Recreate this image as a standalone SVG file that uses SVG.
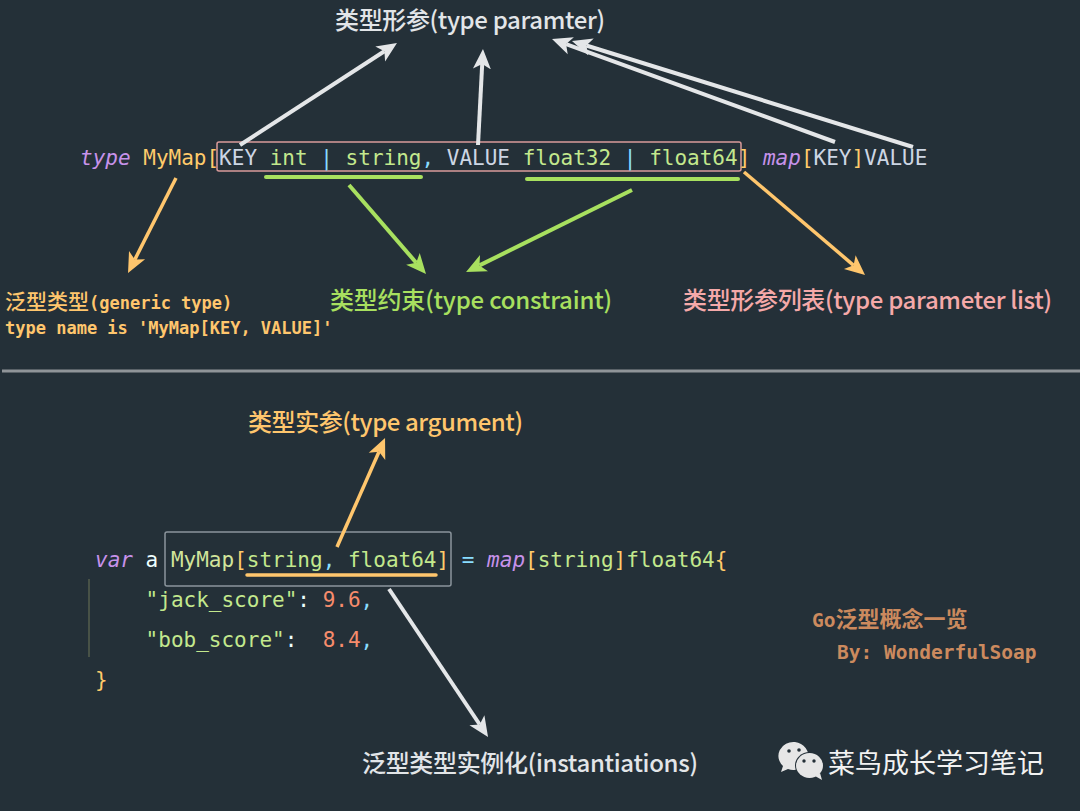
<svg xmlns="http://www.w3.org/2000/svg" width="1080" height="811" viewBox="0 0 1080 811">
<defs>
<style>
.code{font-family:"DejaVu Sans Mono","Liberation Mono",monospace;font-size:21px}
.kw{fill:#c792ea;font-style:italic}
.ty{fill:#ffcb6b}
.id{fill:#cdd6e4}
.gr{fill:#c3e88d}
.op{fill:#89ddff}
.nm{fill:#f78c6c}
.wt{fill:#eeffff}
.lbl{font-family:"Noto Sans CJK SC","Noto Sans",sans-serif;font-size:24px;font-weight:500}
.wa{stroke:#e4e6e8;stroke-width:4;fill:none}
.oa{stroke:#ffc66d;stroke-width:3.5;fill:none}
.ga{stroke:#a8e05f;stroke-width:4;fill:none}
</style>
<marker id="mw" markerUnits="userSpaceOnUse" markerWidth="22" markerHeight="20" viewBox="0 0 22 20" refX="5" refY="10" orient="auto"><path d="M0,1 L20,10 L0,19 L5,10 z" fill="#e4e6e8"/></marker>
<marker id="mo" markerUnits="userSpaceOnUse" markerWidth="22" markerHeight="20" viewBox="0 0 22 20" refX="5" refY="10" orient="auto"><path d="M0,1 L20,10 L0,19 L5,10 z" fill="#ffc66d"/></marker>
<marker id="mg" markerUnits="userSpaceOnUse" markerWidth="22" markerHeight="20" viewBox="0 0 22 20" refX="5" refY="10" orient="auto"><path d="M0,1 L20,10 L0,19 L5,10 z" fill="#a8e05f"/></marker>
</defs>
<rect width="1080" height="811" fill="#243038"/>

<g id="code-top">
<rect x="217" y="142" width="524" height="29" rx="2" fill="none" stroke="#d99a9a" stroke-width="1.5"/>
<text class="code" x="80" y="165" xml:space="preserve"><tspan class="kw">type</tspan> <tspan class="ty">MyMap[</tspan><tspan class="id">KEY</tspan> <tspan class="gr">int</tspan> <tspan class="op">|</tspan> <tspan class="gr">string</tspan><tspan class="op">,</tspan> <tspan class="id">VALUE</tspan> <tspan class="gr">float32</tspan> <tspan class="op">|</tspan> <tspan class="gr">float64</tspan><tspan class="ty">]</tspan> <tspan class="kw">map</tspan><tspan class="ty">[</tspan><tspan class="id">KEY</tspan><tspan class="ty">]</tspan><tspan class="id">VALUE</tspan></text>
<line x1="266" y1="177" x2="421" y2="177" stroke="#a8e05f" stroke-width="4" stroke-linecap="round"/>
<line x1="527" y1="179" x2="738" y2="179" stroke="#a8e05f" stroke-width="4" stroke-linecap="round"/>
</g>

<g id="label-type-param">
<text class="lbl" x="335" y="29" fill="#e2e5e8" textLength="270" lengthAdjust="spacing">类型形参(type paramter)</text>
</g>
<g id="label-generic-type">
<text x="5" y="309" fill="#ffc66d" font-weight="bold"><tspan font-family="Noto Sans CJK SC,sans-serif" font-size="21" font-weight="500">泛型类型</tspan><tspan font-family="DejaVu Sans Mono,monospace" font-size="17">(generic type)</tspan></text>
<text x="5" y="334" fill="#ffc66d" font-weight="bold" font-family="DejaVu Sans Mono,monospace" font-size="17">type name is 'MyMap[KEY, VALUE]'</text>
</g>
<g id="label-constraint">
<text class="lbl" x="330" y="309" fill="#a8e05f" textLength="282" lengthAdjust="spacing">类型约束(type constraint)</text>
</g>
<g id="label-param-list">
<text class="lbl" x="683" y="309" fill="#f5a9a9" textLength="369" lengthAdjust="spacing">类型形参列表(type parameter list)</text>
</g>

<g id="divider">
<line x1="2" y1="371" x2="1080" y2="371" stroke="#8f9498" stroke-width="3"/>
</g>

<g id="code-bottom">
<rect x="165" y="532" width="286" height="54" rx="2" fill="none" stroke="#8a949c" stroke-width="1.5"/>
<text class="code" x="95" y="567" xml:space="preserve"><tspan class="kw">var</tspan> <tspan class="wt">a</tspan> <tspan fill="#d2e59b">MyMap</tspan><tspan class="ty">[</tspan><tspan class="gr">string</tspan><tspan class="op">,</tspan> <tspan class="gr">float64</tspan><tspan class="ty">]</tspan> <tspan class="op">=</tspan> <tspan class="kw">map</tspan><tspan class="ty">[</tspan><tspan class="gr">string</tspan><tspan class="ty">]</tspan><tspan class="gr">float64</tspan><tspan class="ty">{</tspan></text>
<text class="code" x="145.6" y="607" xml:space="preserve"><tspan class="gr">"jack_score"</tspan><tspan class="wt">:</tspan> <tspan class="nm">9.6</tspan><tspan class="op">,</tspan></text>
<text class="code" x="145.6" y="647" xml:space="preserve"><tspan class="gr">"bob_score"</tspan><tspan class="wt">:</tspan>  <tspan class="nm">8.4</tspan><tspan class="op">,</tspan></text>
<text class="code" x="95" y="687"><tspan class="ty">}</tspan></text>
<line x1="89" y1="579" x2="89" y2="657" stroke="#545e4c" stroke-width="1.5"/>
<line x1="247" y1="575" x2="436" y2="575" stroke="#ffc66d" stroke-width="3.5" stroke-linecap="round"/>
</g>

<g id="label-type-arg">
<text class="lbl" x="248" y="431" fill="#ffc66d" textLength="275" lengthAdjust="spacing">类型实参(type argument)</text>
</g>
<g id="label-instantiation">
<text class="lbl" x="362" y="772" fill="#e2e5e8" textLength="336" lengthAdjust="spacing">泛型类型实例化(instantiations)</text>
</g>

<g id="watermark-author">
<text x="812" y="627" fill="#cc8a5e" font-weight="bold"><tspan font-family="DejaVu Sans Mono,monospace" font-size="19.5">Go</tspan><tspan font-family="Noto Sans CJK SC,sans-serif" font-size="22">泛型概念一览</tspan></text>
<text x="837" y="659" fill="#cc8a5e" font-weight="bold" font-family="DejaVu Sans Mono,monospace" font-size="19.5">By: WonderfulSoap</text>
</g>

<g id="watermark-account">
<path d="M795,742 a15,14 0 1 1 -7,27 l-7,3 l2,-6 a15,14 0 0 1 12,-24 z" fill="#e6e6e6"/>
<circle cx="789" cy="751" r="1.8" fill="#243038"/>
<circle cx="799" cy="750" r="1.8" fill="#243038"/>
<ellipse cx="809.5" cy="765.5" rx="14.5" ry="13.5" fill="#243038"/>
<ellipse cx="809.5" cy="765.5" rx="13.5" ry="12.5" fill="#e6e6e6"/>
<path d="M815,776 l7,4 l-2,-7 z" fill="#e6e6e6"/>
<circle cx="804" cy="761" r="1.7" fill="#243038"/>
<circle cx="814" cy="761" r="1.7" fill="#243038"/>
<text x="828" y="773" fill="#f2f2f2" font-family="Noto Sans CJK SC,sans-serif" font-size="27">菜鸟成长学习笔记</text>
</g>

<g id="connectors">
<line class="wa" x1="240" y1="145" x2="384.4" y2="51.2" marker-end="url(#mw)"/>
<line class="wa" x1="478" y1="145" x2="482.2" y2="64" marker-end="url(#mw)"/>
<line class="wa" x1="835" y1="142" x2="566.1" y2="44.1" marker-end="url(#mw)"/>
<line class="wa" x1="913" y1="147" x2="586.3" y2="45.5" marker-end="url(#mw)"/>
<line class="oa" x1="176" y1="178" x2="134.8" y2="259.6" marker-end="url(#mo)"/>
<line class="ga" x1="349" y1="185" x2="416.2" y2="262.7" marker-end="url(#mg)"/>
<line class="ga" x1="632" y1="190" x2="479.5" y2="265.4" marker-end="url(#mg)"/>
<line class="oa" x1="744" y1="172" x2="853.6" y2="265.3" marker-end="url(#mo)"/>
<line class="oa" x1="337" y1="547" x2="379" y2="451.7" marker-end="url(#mo)"/>
<line class="wa" x1="389" y1="589" x2="479.7" y2="724.5" marker-end="url(#mw)"/>
</g>
</svg>
